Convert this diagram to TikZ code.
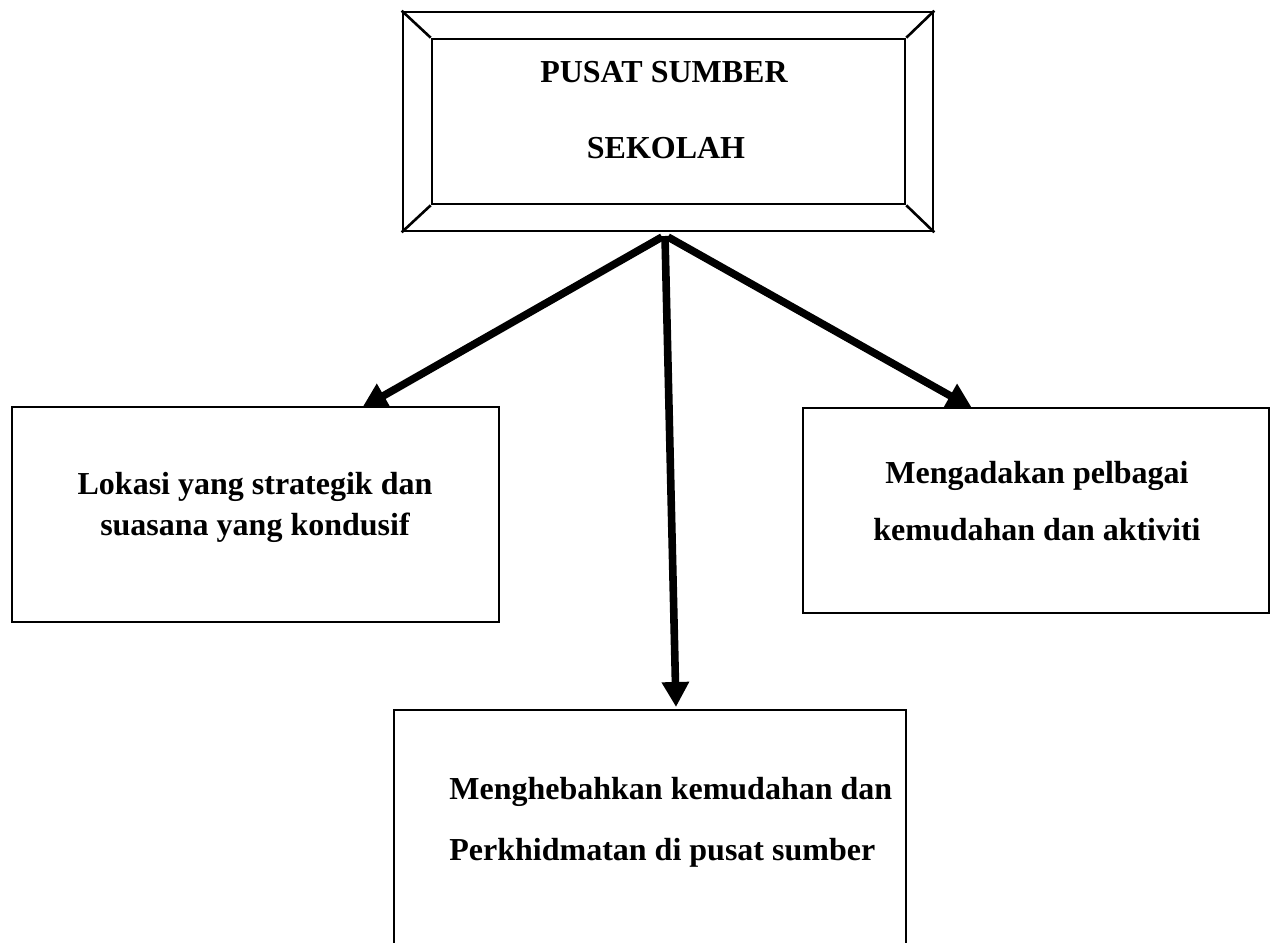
\documentclass[tikz,border=0pt]{standalone}
\usepackage{fontspec}
\setmainfont{Liberation Serif}
\usetikzlibrary{arrows.meta}
\begin{document}
\begin{tikzpicture}[x=0.5pt,y=-0.5pt,
  frame/.style={draw,line width=1.3pt,inner sep=0pt,fill=none},
  boxnode/.style={draw,line width=1.3pt,inner sep=0pt},
  lbl/.style={font=\bfseries\fontsize{16pt}{19pt}\selectfont,inner sep=0pt},
  arr/.style={line width=3.8pt,-{Triangle[length=12.5pt,width=13pt]}}]
\clip (0,0) rectangle (1271,943);
\fill[white] (0,0) rectangle (1271,943);
% top bevelled box
\node[frame,minimum width=265pt,minimum height=109.5pt] (outer) at (668,121.5) {};
\node[frame,minimum width=236.5pt,minimum height=82.5pt] (inner) at (668.5,121.5) {};
\draw[line width=1.3pt] (outer.north west) -- (inner.north west)
  (outer.north east) -- (inner.north east)
  (outer.south west) -- (inner.south west)
  (outer.south east) -- (inner.south east);
\node[lbl,anchor=base] (t1) at (664,82) {PUSAT SUMBER};
\node[lbl,anchor=base] (t2) at (666,158) {SEKOLAH};
% child boxes
\node[boxnode,minimum width=243.5pt,minimum height=107.5pt] (lbox) at (255.5,514.5) {};
\node[lbl,anchor=base] (l1) at (255,494) {Lokasi yang strategik dan};
\node[lbl,anchor=base] (l2) at (255,535) {suasana yang kondusif};
\node[boxnode,minimum width=233pt,minimum height=102.5pt] (rbox) at (1036,510.5) {};
\node[lbl,anchor=base] (r1) at (1037,483) {Mengadakan pelbagai};
\node[lbl,anchor=base] (r2) at (1037,540) {kemudahan dan aktiviti};
\node[boxnode,minimum width=256pt,minimum height=130pt] (bbox) at (650,840) {};
\node[lbl,anchor=base west] (b1) at (449,799) {Menghebahkan kemudahan dan};
\node[lbl,anchor=base west] (b2) at (449,860) {Perkhidmatan di pusat sumber};
% connectors
\coordinate (srcL) at (662,237);
\coordinate (srcM) at (665,236);
\coordinate (srcR) at (668,237);
\coordinate (tipL) at (362,408);
\coordinate (tipM) at (676,707);
\coordinate (tipR) at (972,408);
\draw[arr] (srcL) -- (tipL);
\draw[arr] (srcM) -- (tipM);
\draw[arr] (srcR) -- (tipR);
\end{tikzpicture}
\end{document}
